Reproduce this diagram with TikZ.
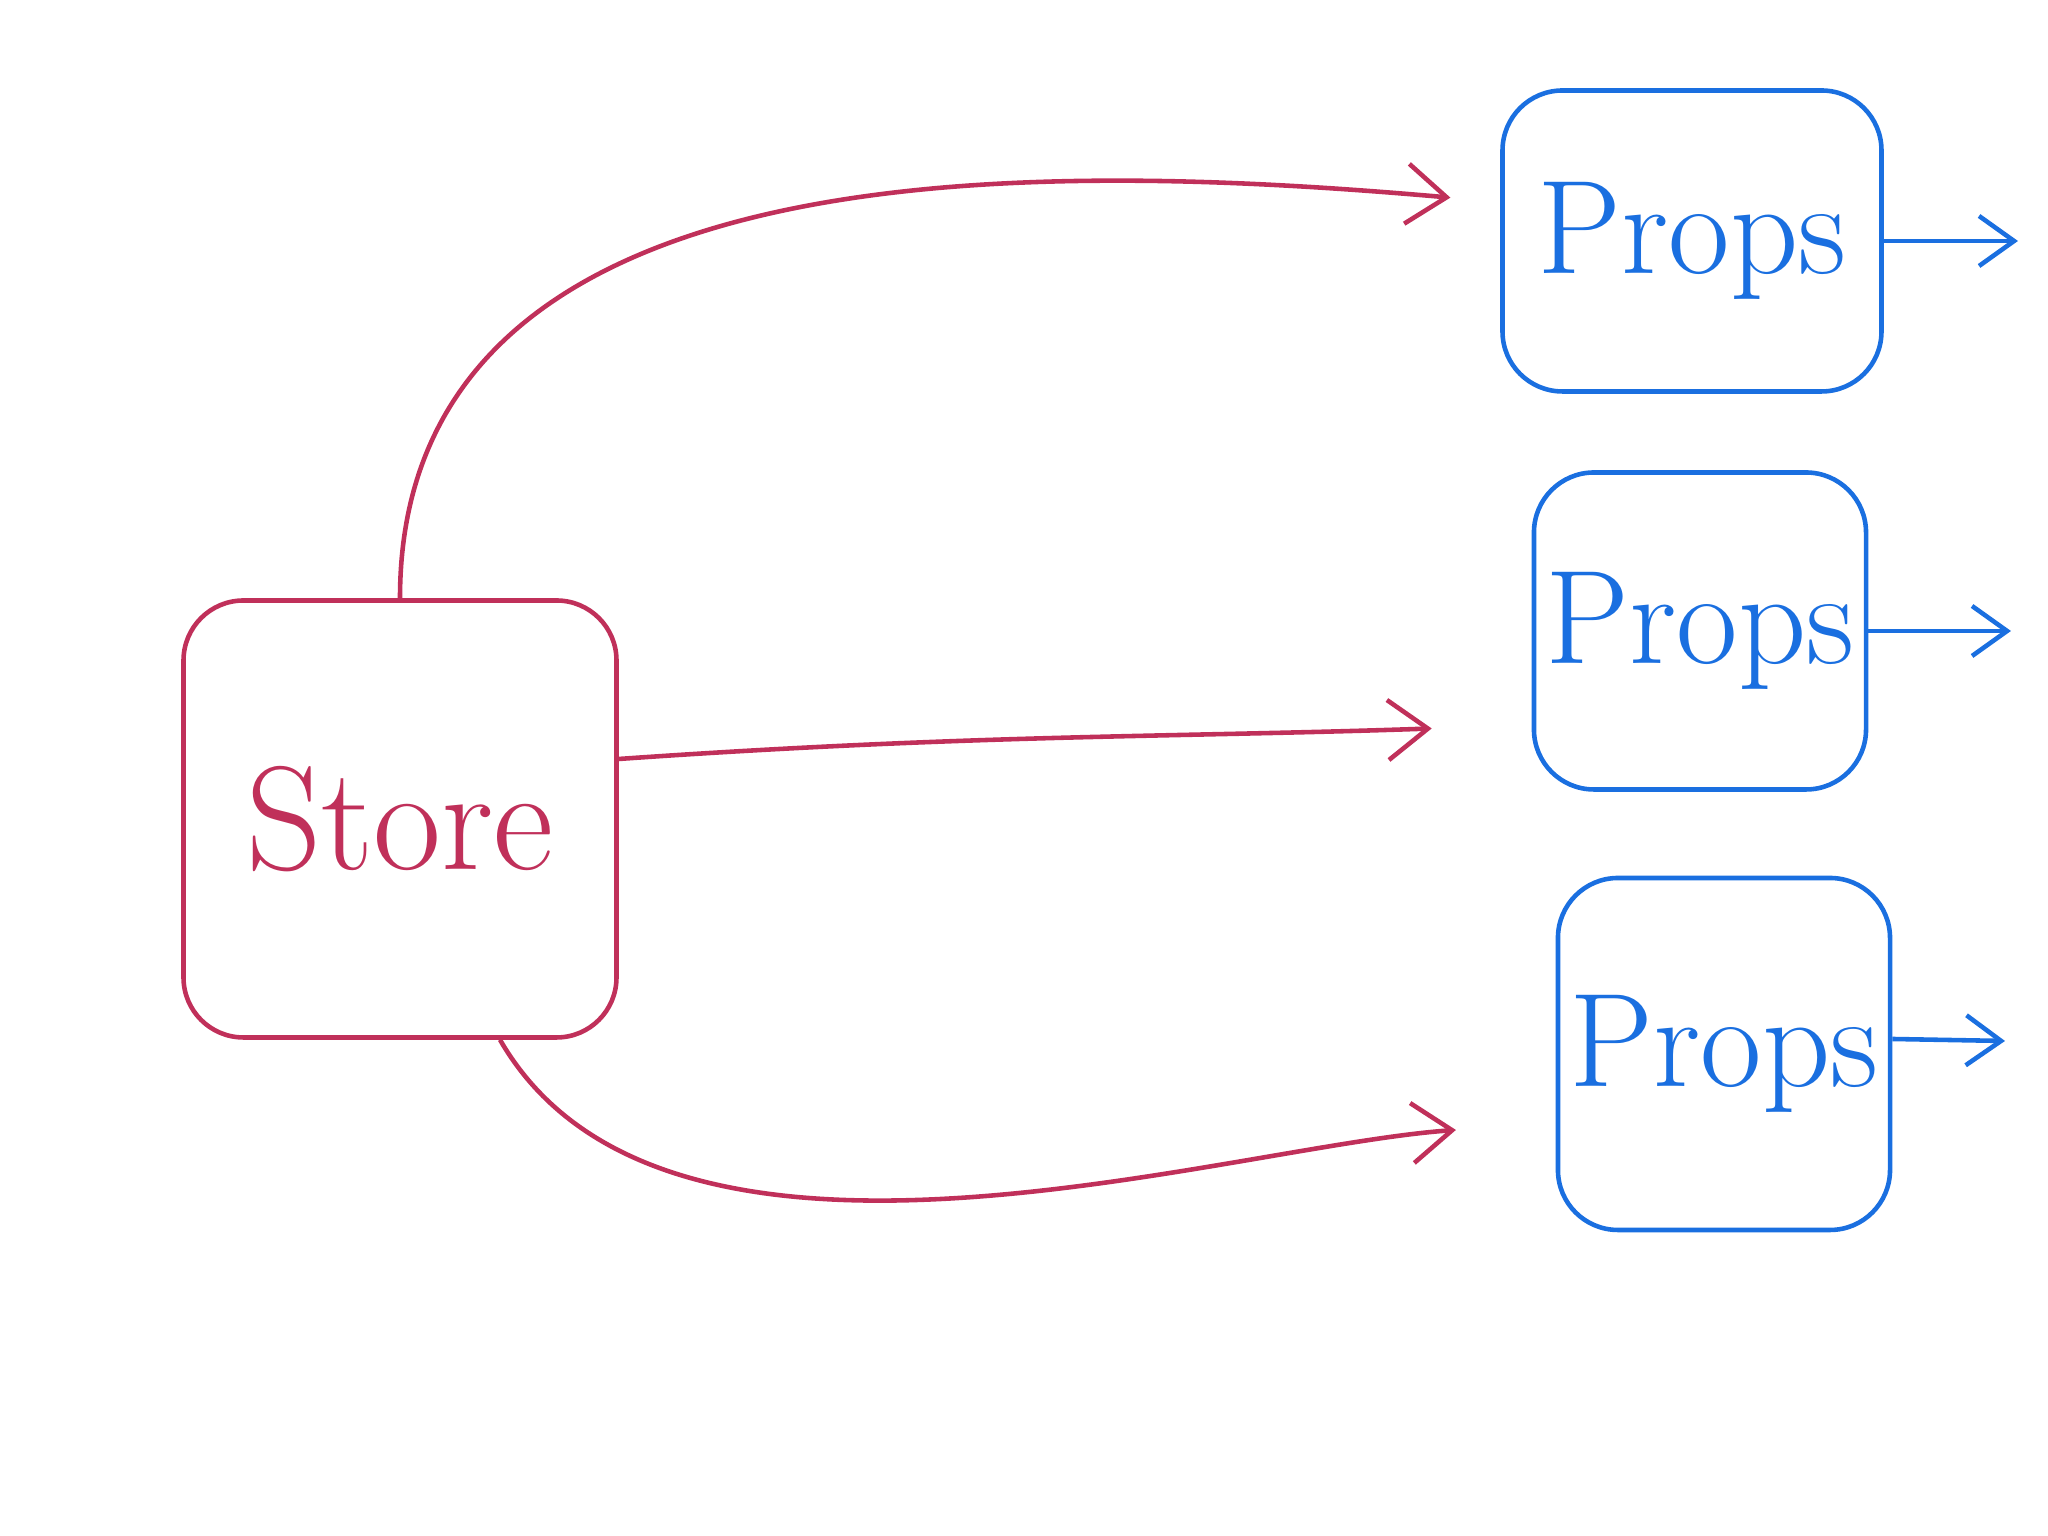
\documentclass[tikz,border=0pt]{standalone}
\usetikzlibrary{arrows.meta}
\definecolor{storered}{HTML}{C0305A}
\definecolor{propsblue}{HTML}{1A6FE0}
\begin{document}
\begin{tikzpicture}[
		storebox/.style={rectangle, draw=storered, line width=1.3pt, rounded corners=0.6cm, minimum width=4.33cm, minimum height=4.37cm, text=storered, font=\fontsize{42}{50}\selectfont},
		propsbox/.style={rectangle, draw=propsblue, line width=1.3pt, rounded corners=0.6cm, text=propsblue, font=\fontsize{38}{46}\selectfont},
		feed/.style={draw=storered, line width=1.3pt, -{Straight Barb[length=4mm,width=6mm]}},
		emit/.style={draw=propsblue, line width=1.3pt, -{Straight Barb[length=3.5mm,width=5mm]}}
	]
		\useasboundingbox (0,0) rectangle (20.48,15.36);

		\node(store)[storebox] at (4.0,7.17) {Store};

		\node(props-1)[propsbox, minimum width=3.79cm, minimum height=3.01cm] at (16.92,12.95) {Props};
		\node(props-2)[propsbox, minimum width=3.27cm, minimum height=3.17cm] at (17.0,9.05) {Props};
		\node(props-3)[propsbox, minimum width=3.18cm, minimum height=3.52cm] at (17.24,4.82) {Props};

		\coordinate(exit-1) at (20.18,12.95);
		\coordinate(exit-2) at (20.11,9.05);
		\coordinate(exit-3) at (20.05,4.95);

		\draw[feed, shorten >=0.5cm] (store.north) to[out=90, in=175] ([yshift=0.39cm]props-1.west);
		\draw[feed, shorten >=1.0cm] ([yshift=0.6cm]store.east) to[out=4, in=182] ([yshift=-0.94cm]props-2.west);
		\draw[feed, shorten >=1.0cm] ([xshift=1.0cm]store.south) to[out=-60, in=184, looseness=0.8] ([yshift=-0.69cm]props-3.west);

		\draw[emit] (props-1.east) -- (exit-1);
		\draw[emit] (props-2.east) -- (exit-2);
		\draw[emit] ([yshift=0.15cm]props-3.east) -- (exit-3);
	\end{tikzpicture}
\end{document}
